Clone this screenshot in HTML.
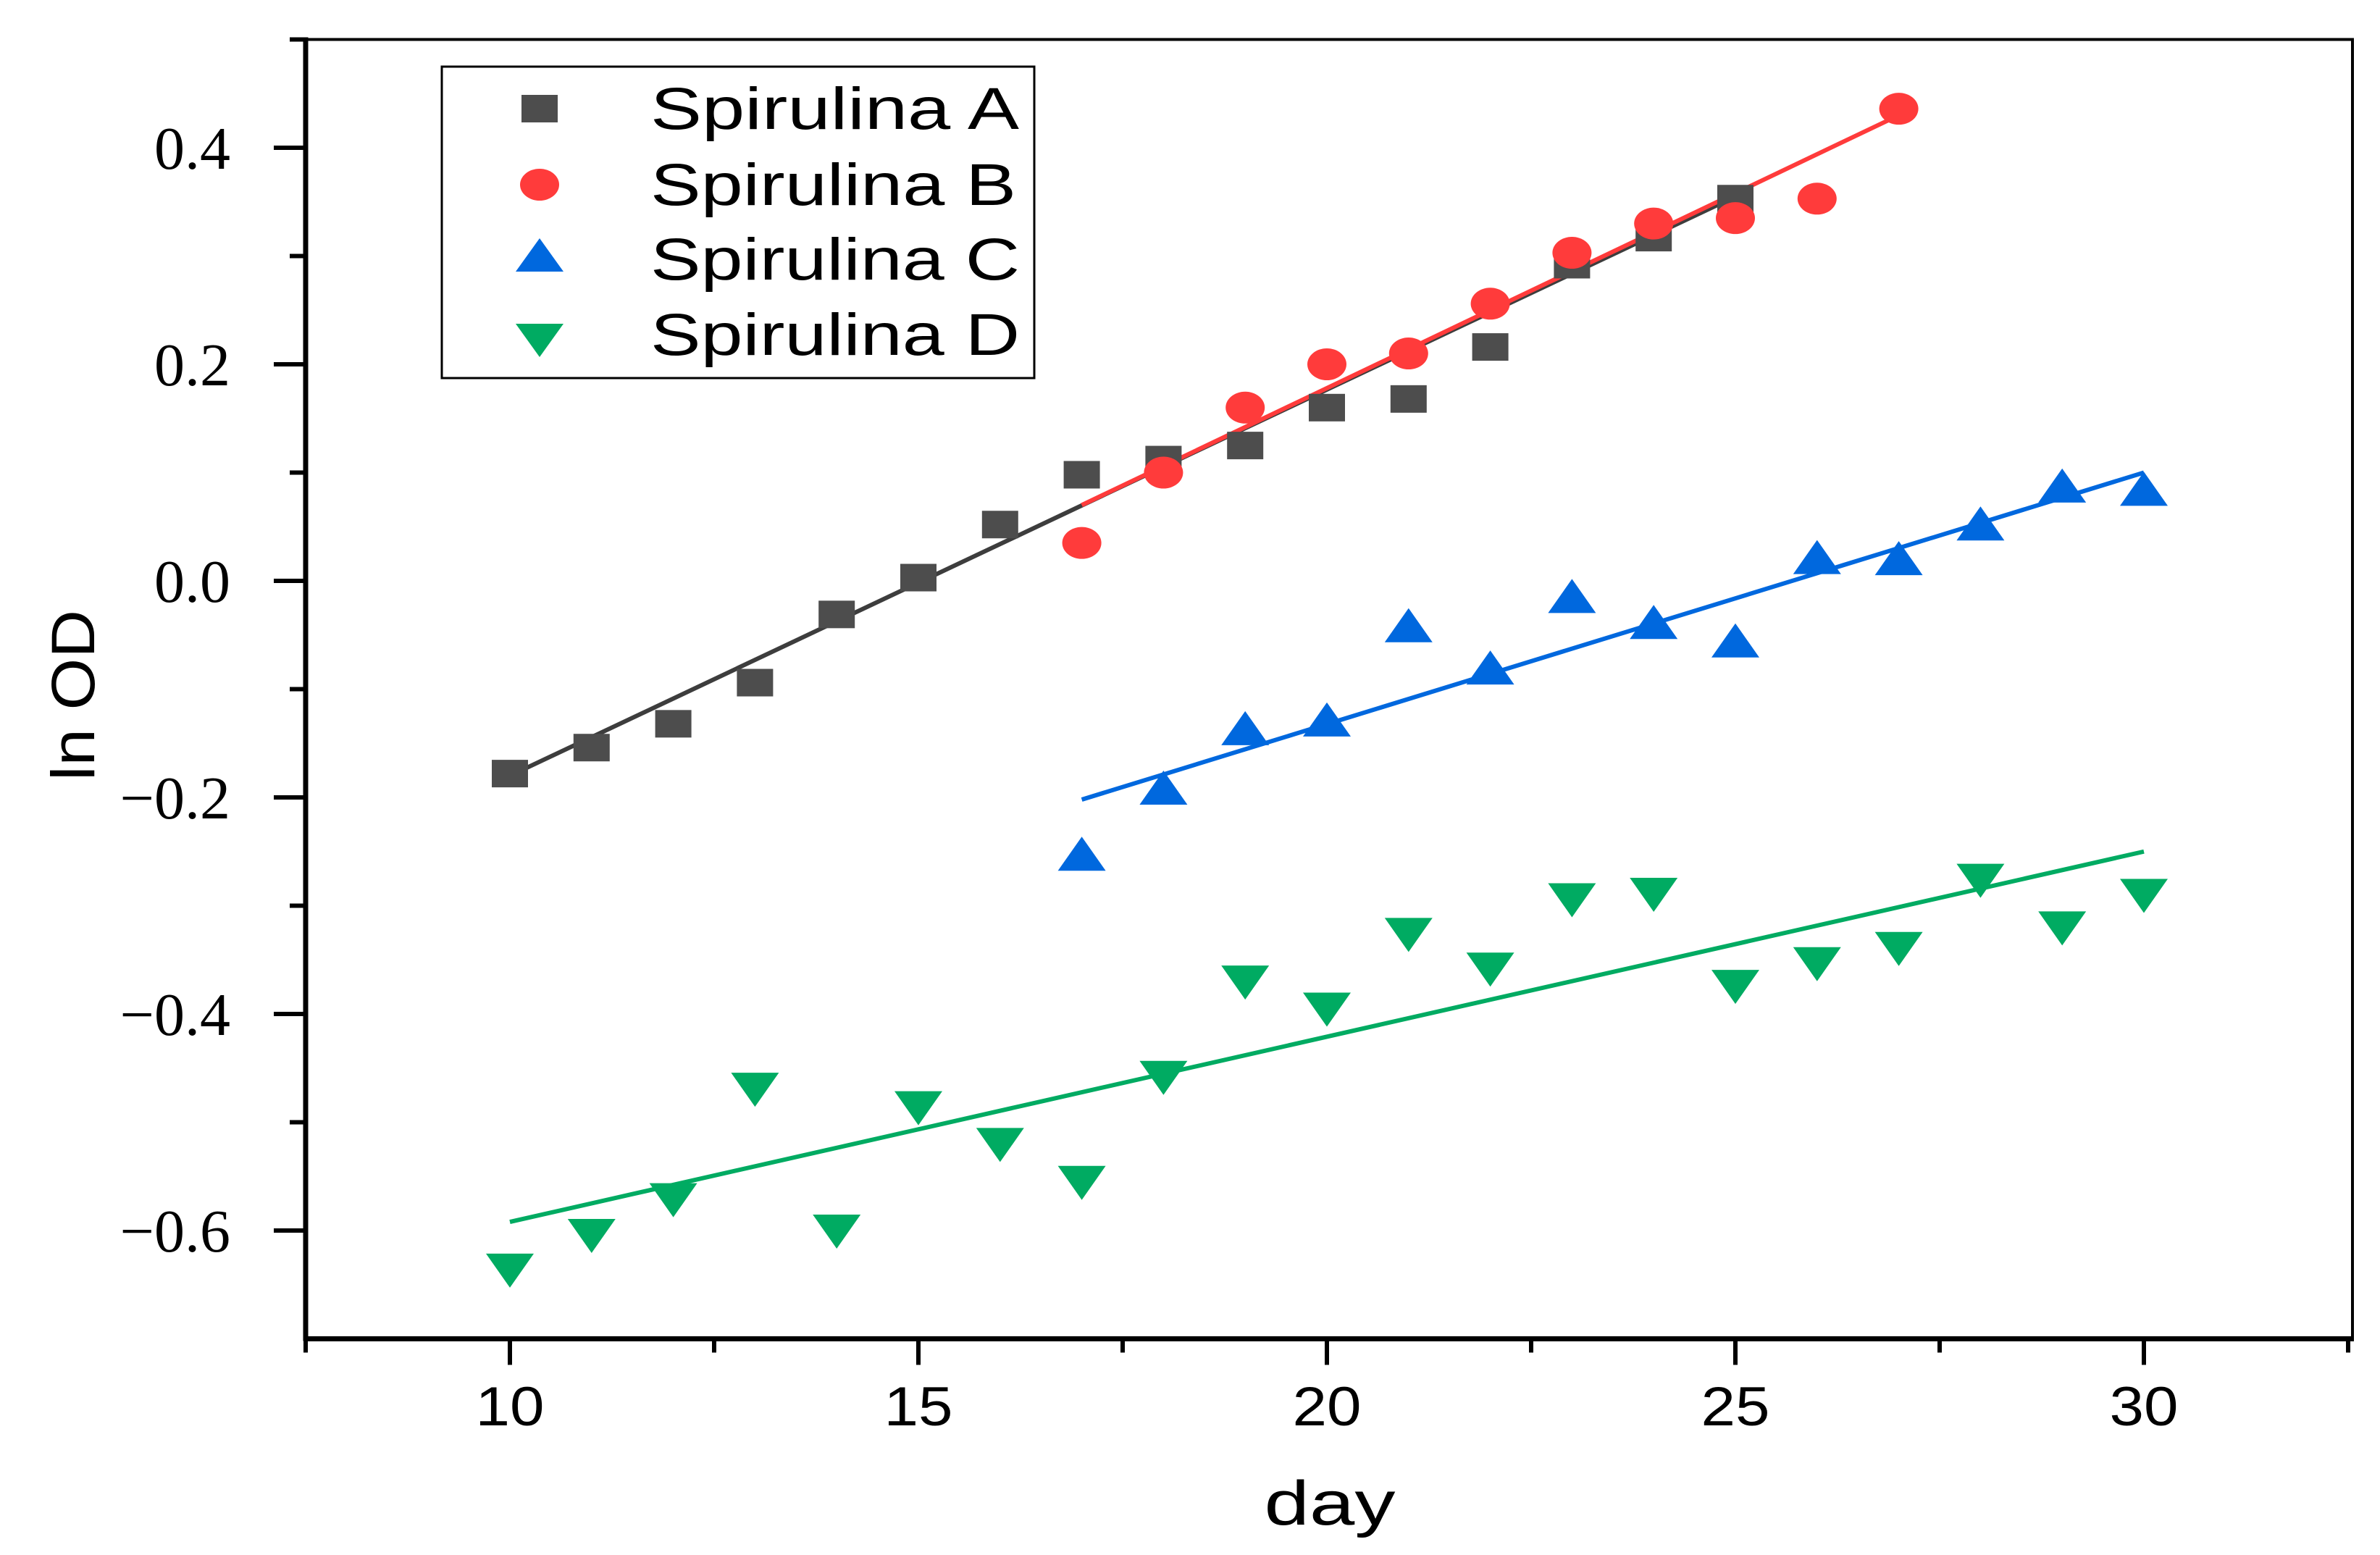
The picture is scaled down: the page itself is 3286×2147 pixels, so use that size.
<!DOCTYPE html>
<html><head><meta charset="utf-8"><style>
html,body{margin:0;padding:0;background:#fff;}
svg{display:block;}
</style></head><body>
<svg id="chart" width="3286" height="2147" viewBox="0 0 3286 2147" xmlns="http://www.w3.org/2000/svg">
<g id="axes"></g>
<g id="lines"></g>
<g id="marks"></g>
<g id="legend">
  <rect x="610" y="92" width="818" height="430" fill="#fff" stroke="#000" stroke-width="3"/>
  <rect x="720" y="131" width="50" height="38" fill="#4d4d4d"/>
  <text x="898" y="178" font-family="Liberation Sans, sans-serif" font-size="82" textLength="509" lengthAdjust="spacingAndGlyphs">Spirulina A</text>
  <ellipse cx="745" cy="255" rx="27" ry="22" fill="#ff3b3b"/>
  <text x="898" y="283" font-family="Liberation Sans, sans-serif" font-size="82" textLength="505" lengthAdjust="spacingAndGlyphs">Spirulina B</text>
  <polygon points="745,329 778,375 712,375" fill="#0068de"/>
  <text x="898" y="386" font-family="Liberation Sans, sans-serif" font-size="82" textLength="510" lengthAdjust="spacingAndGlyphs">Spirulina C</text>
  <polygon points="712,447 778,447 745,493" fill="#00ab62"/>
  <text x="898" y="490" font-family="Liberation Sans, sans-serif" font-size="82" textLength="510" lengthAdjust="spacingAndGlyphs">Spirulina D</text>
</g>
<text x="1836" y="2105" text-anchor="middle" font-family="Liberation Sans, sans-serif" font-size="86" textLength="181" lengthAdjust="spacingAndGlyphs">day</text>
<text transform="translate(130,960) rotate(-90)" text-anchor="middle" font-family="Liberation Sans, sans-serif" font-size="84" textLength="236" lengthAdjust="spacingAndGlyphs">ln OD</text>
</svg>
<script>
const days = [10,11,12,13,14,15,16,17,18,19,20,21,22,23,24,25,26,27,28,29,30];
const seriesA = [-0.178,-0.154,-0.132,-0.094,-0.031,0.003,0.052,0.098,0.112,0.125,0.160,0.168,0.216,0.292,0.317,0.353];
const seriesB = [0.035,0.100,0.160,0.200,0.210,0.256,0.303,0.330,0.335,0.353,0.436];
const seriesC = [-0.253,-0.192,-0.137,-0.129,-0.042,-0.081,-0.015,-0.039,-0.056,0.021,0.020,0.052,0.087,0.084];
const seriesD = [-0.636,-0.604,-0.571,-0.469,-0.600,-0.486,-0.520,-0.555,-0.458,-0.370,-0.395,-0.326,-0.358,-0.294,-0.289,-0.374,-0.353,-0.339,-0.276,-0.320,-0.290];
const startA = 10, startB = 17, startC = 17, startD = 10;
const fitA = [[10,25],[-0.180,0.355]];
const fitB = [[17,27],[0.070,0.430]];
const fitC = [[17,30],[-0.202,0.100]];
const fitD = [[10,30],[-0.592,-0.250]];
const xTicks = [10,15,20,25,30];
const xMinor = [7.5,12.5,17.5,22.5,27.5,32.5];
const yTicks = [0.4,0.2,0.0,-0.2,-0.4,-0.6];
const yTickLabels = ["0.4","0.2","0.0","\u22120.2","\u22120.4","\u22120.6"];
const yMinor = [0.5,0.3,0.1,-0.1,-0.3,-0.5];

const NS = "http://www.w3.org/2000/svg";
const X = v => 704 + (v - 10) * 112.8;
const Y = v => 802 - v * 1495;
function mk(tag, attrs, parent){const el=document.createElementNS(NS,tag);for(const k in attrs)el.setAttribute(k,attrs[k]);parent.appendChild(el);return el;}

const axesG = document.getElementById('axes');
const pLeft = X(7.5), pRight = 3248, pTop = Y(0.5), pBottom = Y(-0.7);
let e;
e = mk('path',{d:`M${pLeft},${pTop} L${pRight},${pTop} L${pRight},${pBottom}`,fill:'none',stroke:'#000','stroke-width':4},axesG);


e = mk('line',{x1:pLeft,y1:pTop-3,x2:pLeft,y2:pBottom+3,stroke:'#000','stroke-width':7},axesG);


e = mk('line',{x1:pLeft-3,y1:pBottom,x2:pRight+2,y2:pBottom,stroke:'#000','stroke-width':7},axesG);


xTicks.forEach(v=>{
  e = mk('line',{x1:X(v),y1:pBottom,x2:X(v),y2:pBottom+36,stroke:'#000','stroke-width':6},axesG);
  
  
  e = mk('text',{x:X(v),y:1968,'text-anchor':'middle','font-family':'Liberation Sans, sans-serif','font-size':76,textLength:95,lengthAdjust:'spacingAndGlyphs'},axesG);
  e.textContent = String(v);
  
  
});
xMinor.forEach(v=>{
  e = mk('line',{x1:X(v),y1:pBottom,x2:X(v),y2:pBottom+19,stroke:'#000','stroke-width':6},axesG);
  
  
});
yTicks.forEach((v,i)=>{
  e = mk('line',{x1:pLeft-44,y1:Y(v),x2:pLeft,y2:Y(v),stroke:'#000','stroke-width':6},axesG);
  
  
  e = mk('text',{x:318,y:Y(v)+29,'text-anchor':'end','font-family':'Liberation Serif, serif','font-size':84},axesG);
  e.textContent = yTickLabels[i];
  
  
});
yMinor.forEach(v=>{
  e = mk('line',{x1:pLeft-22,y1:Y(v),x2:pLeft,y2:Y(v),stroke:'#000','stroke-width':6},axesG);
  
  
});

const linesG = document.getElementById('lines');
[[fitA,'#3d3d3d','fit-line-a'],[fitB,'#ff3b3b','fit-line-b'],[fitC,'#0068de','fit-line-c'],[fitD,'#00ab62','fit-line-d']].forEach(([f,c,n])=>{
  e = mk('line',{x1:X(f[0][0]),y1:Y(f[1][0]),x2:X(f[0][1]),y2:Y(f[1][1]),stroke:c,'stroke-width':6},linesG);
  
  
});

const marksG = document.getElementById('marks');
seriesA.forEach((v,i)=>{
  const cx=X(startA+i), cy=Y(v);
  e = mk('rect',{x:cx-25,y:cy-19,width:50,height:38,fill:'#4d4d4d'},marksG);
  
  
});
seriesB.forEach((v,i)=>{
  e = mk('ellipse',{cx:X(startB+i),cy:Y(v),rx:27,ry:22,fill:'#ff3b3b'},marksG);
  
  
});
seriesC.forEach((v,i)=>{
  const cx=X(startC+i), cy=Y(v);
  e = mk('polygon',{points:`${cx},${cy-25} ${cx+33},${cy+22} ${cx-33},${cy+22}`,fill:'#0068de'},marksG);
  
  
});
seriesD.forEach((v,i)=>{
  const cx=X(startD+i), cy=Y(v);
  e = mk('polygon',{points:`${cx-33},${cy-22} ${cx+33},${cy-22} ${cx},${cy+25}`,fill:'#00ab62'},marksG);
  
  
});
</script>
</body></html>
